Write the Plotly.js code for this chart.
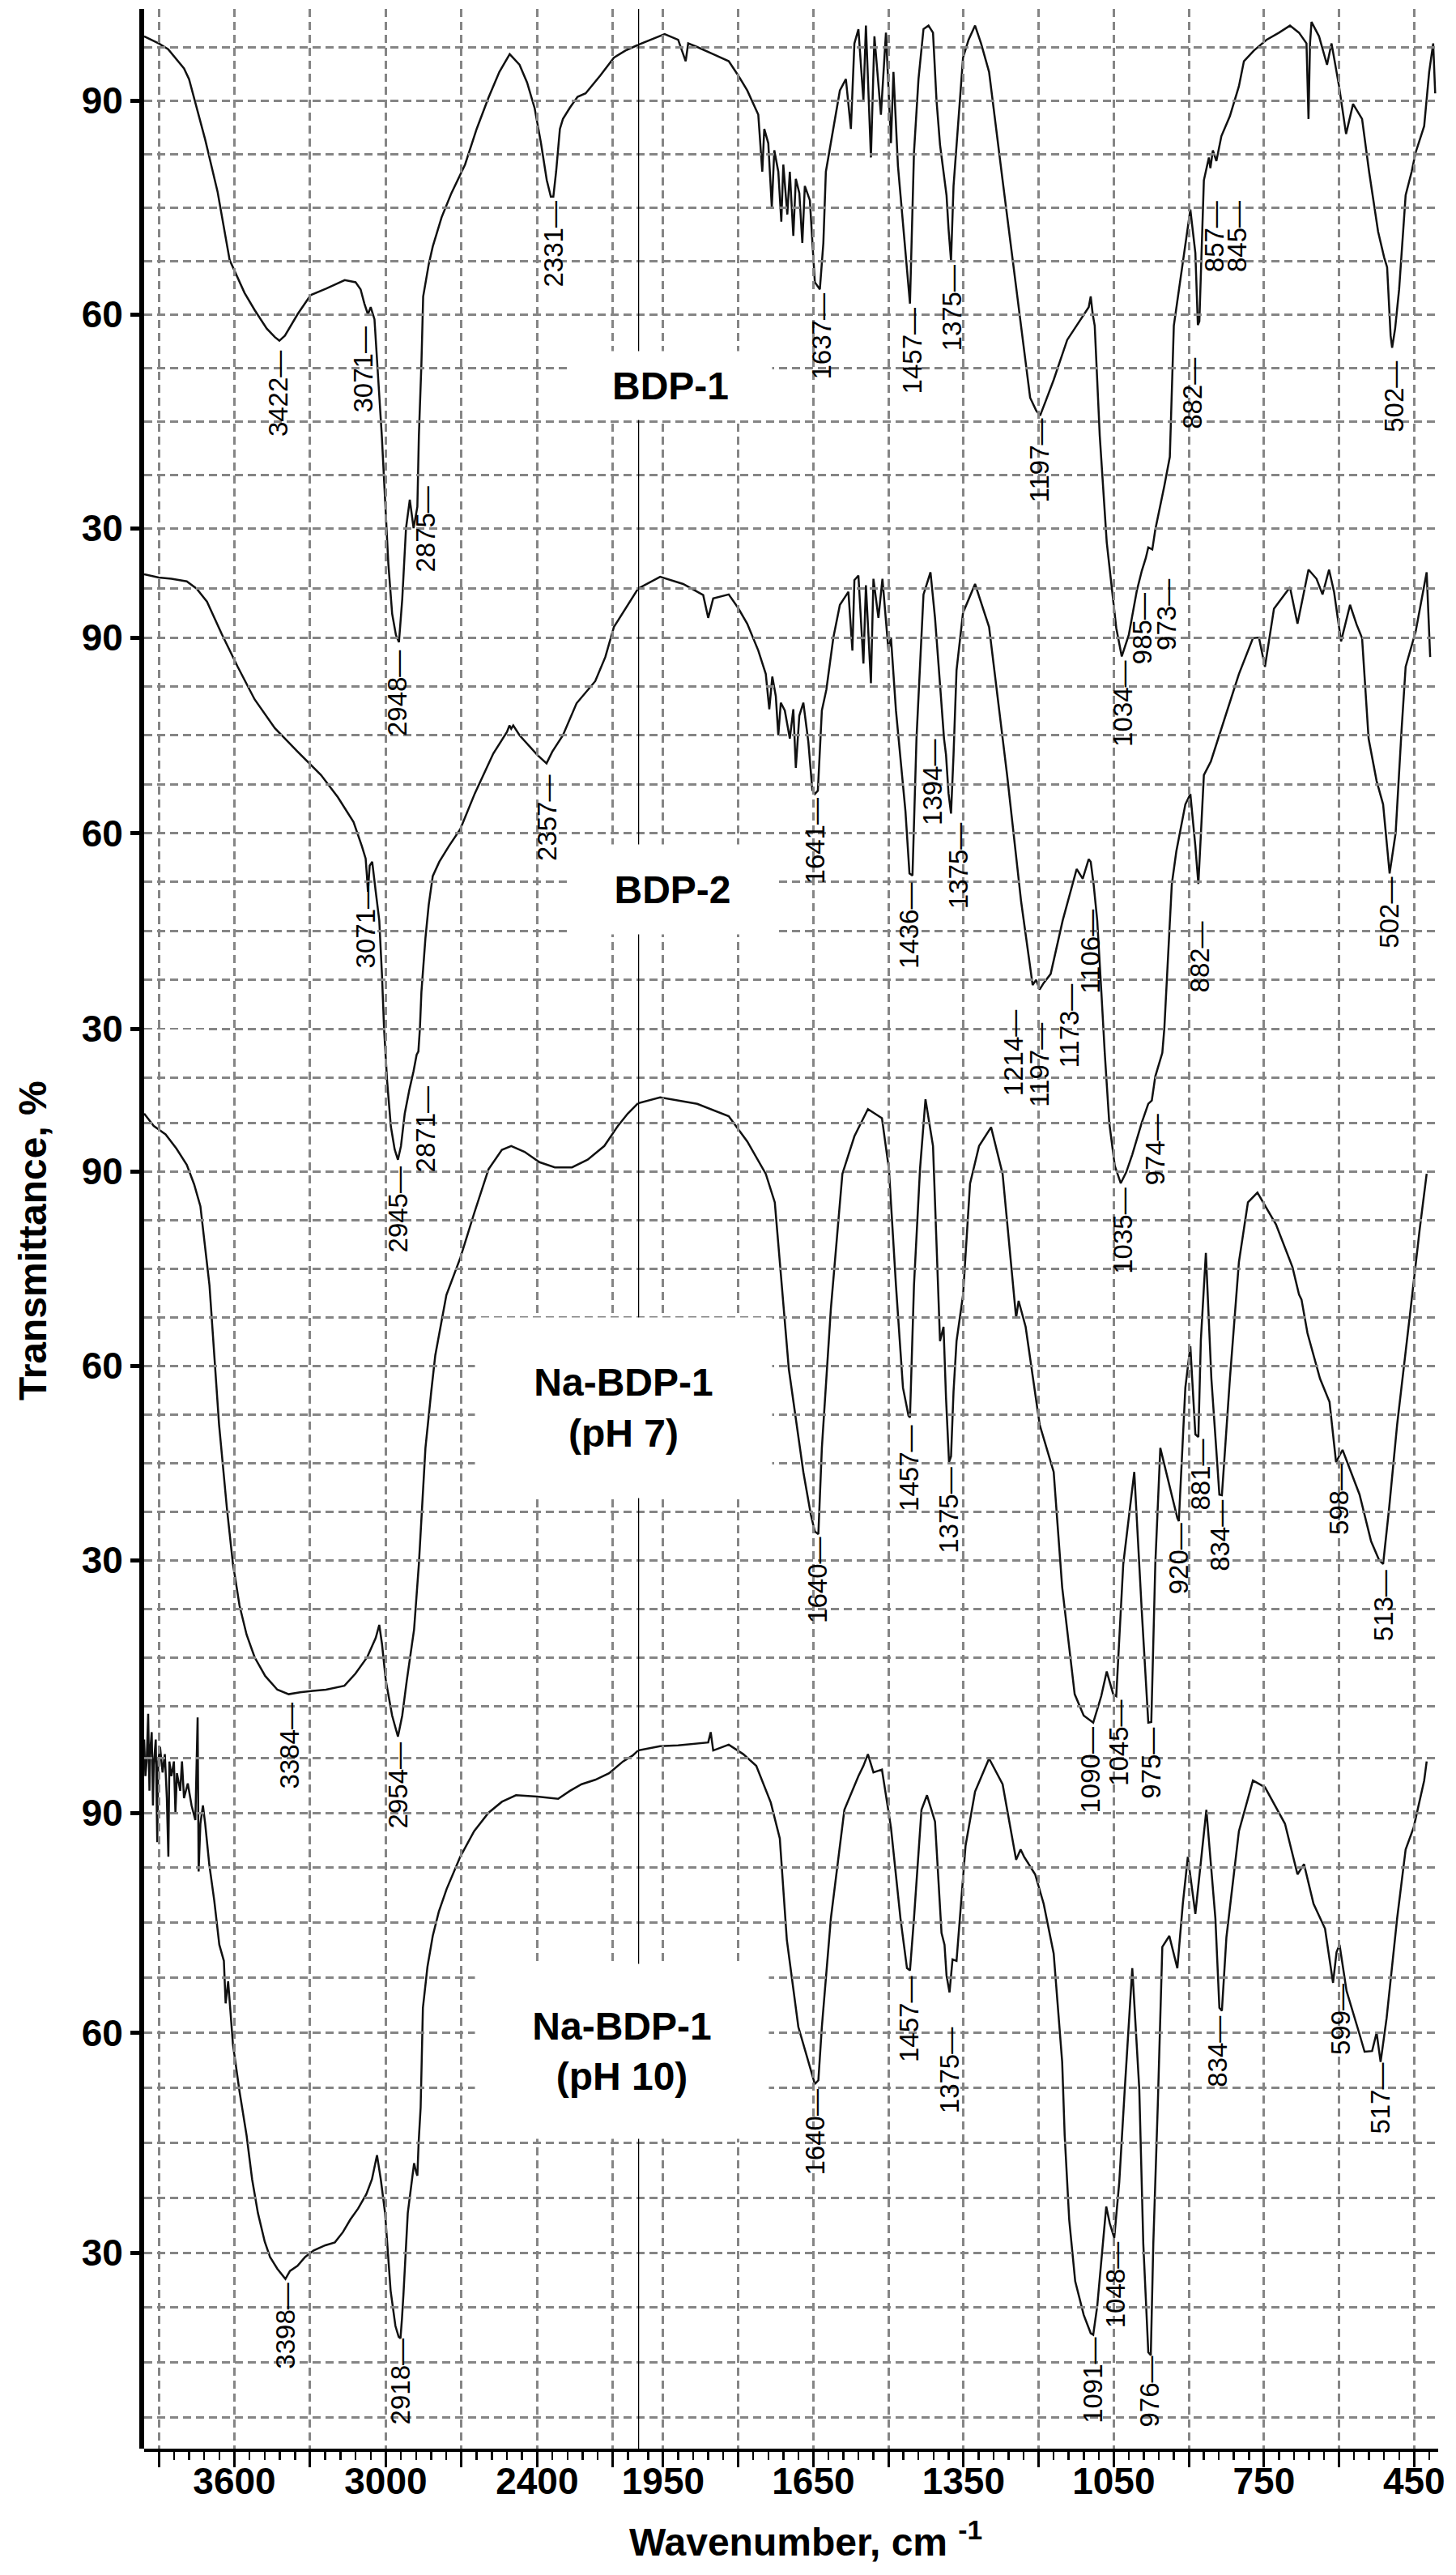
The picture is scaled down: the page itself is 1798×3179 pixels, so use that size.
<!DOCTYPE html>
<html>
<head>
<meta charset="utf-8">
<script src="https://cdn.plot.ly/plotly-3.0.1.min.js"></script>
<style>
  html, body { margin: 0; padding: 0; background: #fff; }
  #ir { width: 1798px; height: 3179px; }
</style>
</head>
<body>
<div id="ir"></div>
<script>
// IR spectra: [wavenumber cm-1, transmittance %]
let bdp1 = [
  [3958, 99.0], [3900, 98.0], [3863, 97.2], [3800, 94.5], [3780, 93], [3716, 84.5], [3667, 77.2],
  [3619, 67.6], [3560, 63], [3520, 60.6], [3472, 58], [3440, 56.8], [3422, 56.3], [3400, 57],
  [3350, 60], [3298, 62.7], [3237, 63.6], [3163, 64.8], [3120, 64.5], [3100, 63.5], [3085, 61.5],
  [3071, 60], [3060, 61], [3045, 59.3], [3016, 43], [3006, 36], [2990, 25], [2975, 18], [2960, 15],
  [2948, 14], [2935, 20], [2920, 30], [2905, 34], [2890, 30], [2875, 33], [2869, 43], [2859, 53],
  [2852, 62.5], [2830, 67], [2814, 69.5], [2779, 73.6], [2740, 77], [2686, 81], [2640, 86],
  [2593, 90.4], [2550, 94], [2509, 96.5], [2470, 95], [2440, 92.5], [2410, 88.9], [2385, 84],
  [2362, 78.8], [2346, 76.5], [2336, 76.5], [2325, 80], [2310, 86], [2298, 87.4], [2270, 89],
  [2240, 90.5], [2208, 91], [2150, 93.5], [2096, 96], [2050, 97], [2006, 97.7], [2000, 97.8],
  [1947, 99.3], [1920, 98.5], [1905, 95.5], [1900, 98], [1882, 97.5], [1850, 96.5], [1819, 95.5],
  [1800, 93.5], [1782, 91.4], [1760, 88], [1752, 80], [1748, 86], [1740, 84], [1733, 75],
  [1728, 83], [1720, 80], [1714, 73], [1710, 81], [1702, 74], [1697, 80], [1690, 71], [1685, 79],
  [1678, 77], [1672, 70], [1667, 78], [1657, 76],
  [1647, 64.5], [1637, 63.5], [1630, 70], [1625, 80], [1610, 86], [1597, 91.4], [1585, 93],
  [1575, 86], [1568, 98], [1560, 100], [1550, 90], [1545, 100.5], [1535, 82], [1528, 99],
  [1515, 88], [1505, 99.5], [1495, 84], [1490, 94], [1481, 80.8], [1470, 72], [1463, 65.5],
  [1457, 61.5], [1449, 82.7], [1440, 93], [1430, 100], [1420, 100.5], [1411, 99.5], [1404, 90],
  [1397, 83.8], [1384, 76.7], [1380, 72], [1375, 67.5], [1370, 78], [1364, 83.8], [1351, 96],
  [1340, 98.5], [1327, 100.5], [1315, 98], [1299, 94], [1272, 78.8], [1245, 63.5], [1217, 48.3],
  [1205, 46.5], [1197, 45.8], [1185, 48], [1170, 50.8], [1143, 56.4], [1115, 59.4], [1100, 61],
  [1096, 62.5], [1092, 60], [1088, 58.4], [1078, 43], [1064, 28], [1055, 22], [1045, 16],
  [1034, 12], [1020, 15], [1004, 21.2], [994, 24], [986, 25.8], [981, 27.3], [973, 27],
  [967, 29.8], [949, 35.9], [938, 40], [930, 58.4], [911, 67.6], [897, 74.7], [887, 68.6],
  [882, 58.5], [879, 59], [870, 78.8], [860, 82], [857, 80.5], [852, 83], [845, 81.5], [835, 85],
  [818, 87.8], [800, 92], [790, 95.5], [770, 97], [745, 98.5], [720, 99.5], [698, 100.5],
  [680, 99.5], [665, 98], [661, 87.4], [658, 98], [655, 101], [640, 99], [624, 95], [615, 98],
  [600, 92], [586, 85.3], [572, 89.5], [560, 88], [554, 87.4], [540, 80], [522, 71.6], [510, 68],
  [504, 66.6], [497, 57], [494, 55.3], [488, 58], [480, 63.5], [467, 76.7], [455, 80], [447, 82.7],
  [430, 86.4], [420, 94], [412, 98], [408, 91]
];

let bdp2 = [
  [3958, 99.7], [3900, 99.2], [3850, 99], [3789, 98.6], [3750, 97.5], [3709, 95.5], [3650, 90.5],
  [3587, 85.5], [3520, 80.5], [3440, 76.1], [3350, 72.5], [3257, 68.9], [3190, 65.5], [3128, 61.7],
  [3095, 58], [3080, 56.1], [3075, 53.5], [3071, 51], [3064, 55], [3054, 55.6], [3040, 51],
  [3026, 46.6], [3015, 38], [3007, 30], [2995, 22], [2980, 15], [2965, 11.5], [2952, 9.9],
  [2940, 12], [2925, 17], [2907, 20.6], [2890, 23.5], [2878, 26], [2871, 26.5], [2865, 30],
  [2859, 35.6], [2843, 43.9], [2830, 49], [2814, 53.4], [2788, 55.6], [2750, 58], [2705, 60.6],
  [2647, 66.1], [2574, 72.2], [2520, 75.5], [2510, 76.5], [2503, 76], [2495, 76.5], [2470, 75],
  [2445, 73.9], [2400, 72], [2363, 70.7], [2340, 72.5], [2298, 75], [2244, 79.9], [2170, 83.3],
  [2130, 87], [2096, 91.6], [2050, 94.5], [2006, 97.2], [2000, 97.5], [1956, 99.3], [1910, 98.2],
  [1870, 96.5], [1860, 93], [1850, 96], [1819, 96.6], [1800, 94.5], [1782, 92.1], [1760, 88],
  [1745, 84.4], [1738, 79], [1732, 84], [1725, 81], [1720, 75], [1715, 80], [1707, 78.8],
  [1697, 74.5], [1690, 79], [1685, 70], [1678, 78], [1670, 80], [1660, 74], [1652, 66.6],
  [1647, 66], [1641, 66.5], [1633, 78.8],
  [1624, 82], [1610, 90], [1597, 95], [1580, 97], [1572, 88], [1568, 98.8], [1560, 99.5],
  [1550, 86], [1545, 98], [1535, 83], [1530, 99], [1520, 93], [1512, 99], [1500, 88], [1495, 90],
  [1485, 78.8], [1466, 63.3], [1458, 53.8], [1452, 53.5], [1444, 74.5], [1430, 96.6], [1416, 100],
  [1407, 93], [1397, 82.8], [1389, 74.5], [1385, 72], [1380, 66.1], [1375, 63], [1370, 72],
  [1364, 85], [1351, 93.8], [1327, 98.2], [1299, 91.6], [1263, 68.9], [1235, 49.5], [1212, 36.7],
  [1205, 37.5], [1198, 36], [1190, 37], [1176, 38.4], [1152, 46.6], [1124, 54.5], [1112, 53],
  [1100, 56], [1096, 55.6], [1090, 52], [1083, 46.6], [1075, 36], [1068, 26.3], [1059, 15.6],
  [1048, 9], [1036, 6.3], [1025, 8], [1013, 10.7], [994, 15.6], [981, 18.5], [974, 19],
  [967, 22.7], [953, 26.3], [949, 30], [934, 52.2], [925, 57.2], [907, 64.4], [897, 66], [887, 58],
  [881, 52.2], [870, 68.9], [856, 71], [837, 75.5], [818, 80], [800, 84.4], [772, 89.9], [760, 90],
  [748, 85.5], [730, 94.4], [698, 97.7], [683, 92.1], [661, 100.4], [645, 99], [633, 96.6],
  [620, 100.4], [610, 97], [596, 89.4], [578, 95], [565, 92], [554, 89.9], [541, 74.5], [525, 68],
  [512, 64.4], [499, 53.8], [487, 60], [475, 76], [467, 85.5], [447, 90.9], [425, 100], [418, 87]
];

let nabdp7 = [
  [3958, 98.9], [3920, 97], [3873, 95.7], [3830, 93.5], [3789, 91], [3760, 88], [3735, 84.6],
  [3699, 72.4], [3661, 50.9], [3630, 38], [3606, 29.4], [3580, 23], [3552, 18.5], [3520, 15],
  [3478, 12.1], [3430, 10], [3385, 9.3], [3340, 9.6], [3290, 9.8], [3237, 10], [3164, 10.6],
  [3120, 12.5], [3074, 15], [3040, 18], [3026, 20], [3015, 17], [3000, 11.4], [2975, 6],
  [2952, 2.75], [2935, 6], [2917, 11.4], [2888, 19.3], [2869, 29.4], [2843, 47.3], [2820, 56],
  [2804, 61.6], [2760, 70.9], [2705, 76.6], [2650, 83.5], [2593, 90.3], [2540, 93.3], [2503, 93.9],
  [2450, 93], [2391, 91.4], [2330, 90.6], [2262, 90.6], [2200, 91.8], [2134, 93.9], [2080, 97],
  [2041, 98.9], [2000, 100.5], [1956, 101.4], [1882, 100.4], [1819, 98.5], [1782, 94.6],
  [1745, 89.6], [1727, 85.2], [1699, 59.5], [1670, 43.6], [1655, 37], [1647, 34.4], [1640, 34],
  [1633, 47.3], [1615, 68.8], [1592, 89.6], [1568, 95.4], [1541, 99.6], [1513, 98.2], [1499, 90.3],
  [1485, 72.4], [1471, 56.6], [1460, 52.3], [1457, 52], [1449, 72.4], [1437, 90.3], [1426, 101.1],
  [1411, 93.9], [1397, 63.8], [1390, 66], [1385, 55], [1379, 45.1], [1375, 46], [1370, 56],
  [1364, 63.8], [1351, 70.9], [1337, 88.1], [1319, 93.9], [1295, 96.8], [1272, 89.6], [1245, 67.4],
  [1240, 70], [1226, 66], [1198, 50.9], [1170, 43.6], [1153, 25.8], [1128, 9.3], [1110, 6],
  [1091, 4.9], [1075, 9], [1064, 12.8], [1051, 9.3], [1045, 9], [1031, 29.4], [1009, 43.6],
  [994, 22.1], [981, 4.9], [975, 5], [967, 29.4], [957, 47.3], [940, 42], [923, 36.5], [920, 36],
  [907, 56.6], [897, 63], [887, 49.4], [881, 49], [876, 64], [866, 77.4], [855, 58], [839, 40.1],
  [834, 40], [818, 58], [800, 76], [782, 85.2], [763, 86.7], [726, 81.8], [693, 75.2], [680, 71],
  [675, 70.2], [663, 65], [638, 58], [619, 54.4], [606, 45.1], [600, 46], [593, 47], [559, 40.1],
  [536, 32.9], [520, 30], [512, 29.4], [500, 38], [484, 50.9], [457, 68.8], [439, 81], [425, 89.6]
];

let nabdp10 = [
  [3958, 100], [3953, 95], [3948, 97], [3942, 103.5], [3937, 93], [3935, 98], [3928, 101],
  [3923, 91], [3920, 96.5], [3912, 100], [3906, 86], [3902, 97], [3895, 99], [3885, 95.5],
  [3876, 98], [3868, 92], [3862, 84], [3858, 97], [3850, 95], [3840, 97], [3834, 90], [3828, 95.4],
  [3815, 93], [3808, 97], [3800, 92], [3785, 94], [3770, 91], [3755, 89], [3746, 103], [3742, 82],
  [3735, 88.5], [3725, 91], [3716, 88.5], [3700, 83], [3680, 78], [3660, 72], [3642, 69.8], [3635, 64],
  [3625, 67], [3606, 58.4], [3580, 52], [3552, 46], [3530, 40], [3507, 35.4], [3480, 31.5],
  [3459, 29.4], [3430, 27.8], [3404, 26.6], [3398, 26.4], [3380, 27.5], [3350, 28.2], [3320, 29.4],
  [3286, 30.3], [3240, 31], [3202, 31.4], [3170, 32.8], [3141, 34.5], [3110, 36], [3077, 38],
  [3055, 40], [3035, 43.3], [3020, 40], [3003, 35.4], [2981, 24.8], [2962, 20], [2949, 18.5],
  [2942, 18.3], [2936, 21], [2930, 24.4], [2913, 35.4], [2888, 42.2], [2880, 41], [2875, 40.5],
  [2870, 45], [2862, 49.8], [2853, 63.4], [2835, 69], [2814, 73.2], [2790, 76.5], [2759, 79.6],
  [2705, 84], [2650, 87.5], [2593, 90], [2540, 91.5], [2484, 92.4], [2400, 92.2], [2317, 91.9],
  [2270, 93], [2224, 93.9], [2170, 94.5], [2115, 95.4], [2060, 97], [2022, 97.8], [2000, 98.5],
  [1956, 99.1], [1920, 99.2], [1880, 99.5], [1860, 99.6], [1855, 101], [1850, 98.5], [1819, 99.3],
  [1790, 98], [1764, 96.4], [1735, 91.4], [1717, 86.5], [1703, 72.7], [1680, 60.8], [1660, 56],
  [1650, 53.5], [1647, 53], [1640, 53.5], [1633, 60.8], [1615, 75.6], [1588, 90.4], [1560, 95],
  [1550, 96.4], [1541, 98], [1530, 95.5], [1513, 95.9], [1495, 88], [1476, 75.6], [1463, 68.8],
  [1457, 68.5], [1449, 75.6], [1434, 90.4], [1423, 92.4], [1407, 88.8], [1394, 73.6], [1388, 72],
  [1384, 67.8], [1378, 65.5], [1372, 70], [1364, 69.8], [1346, 85.5], [1327, 92.9], [1299, 97.4],
  [1272, 93.9], [1245, 83.6], [1236, 85], [1229, 84], [1207, 81.6], [1190, 77.6], [1170, 70.8],
  [1153, 56], [1148, 46], [1139, 34.5], [1127, 26.1], [1110, 21.5], [1096, 19], [1091, 18.8],
  [1083, 22.7], [1077, 27], [1065, 36.3], [1058, 34], [1049, 32], [1039, 39.6], [1033, 46],
  [1028, 52.3], [1013, 68.8], [1005, 60], [999, 52.3], [991, 31.2], [981, 16.4], [976, 16],
  [971, 31.2], [962, 50.2], [953, 71.7], [939, 73.2], [923, 68.8], [912, 77.6], [902, 84],
  [887, 76.2], [876, 83], [865, 90.4], [847, 75.6], [839, 63.4], [834, 63], [825, 73], [800, 87.5],
  [772, 94.4], [748, 93.5], [708, 88.5], [683, 81.6], [670, 83], [651, 77.6], [628, 74.2],
  [612, 66.8], [605, 71], [599, 72], [585, 65.7], [560, 60], [549, 57.4], [534, 57.5], [525, 60],
  [517, 56], [505, 62], [484, 75.6], [467, 85], [451, 88], [430, 94.4], [425, 97]
];

// peak labels: [text, wavenumber where it stands, % at its upper end]
let bdp1Peaks = [
  ['3422', 3428, 55], ['3071', 3090, 58.4], ['2948', 2955, 13], ['2875', 2843, 36],
  ['2331', 2336, 76], ['1637', 1633, 63], ['1457', 1453, 61], ['1375', 1374, 67],
  ['1197', 1198, 45.5], ['1034', 1031, 11.5], ['985', 994, 21], ['973', 945, 23],
  ['882', 892, 54], ['857', 850, 76], ['845', 805, 76], ['502', 490, 53.5]
];
let bdp2Peaks = [
  ['3071', 3080, 52.5], ['2945', 2952, 9], ['2871', 2843, 21.3], ['2357', 2363, 69],
  ['1641', 1647, 65.5], ['1436', 1458, 52.5], ['1394', 1411, 74.5], ['1375', 1359, 61.7],
  ['1214', 1249, 33], ['1197', 1198, 31], ['1173', 1138, 37], ['1106', 1096, 48.4],
  ['1035', 1031, 5.7], ['974', 967, 17], ['882', 879, 46.6], ['502', 499, 53.4]
];
let nabdp7Peaks = [
  ['3384', 3385, 8], ['2954', 2952, 2], ['1640', 1643, 33.6], ['1457', 1458, 50.9],
  ['1375', 1379, 44.4], ['1090', 1096, 4.3], ['1045', 1041, 8.5], ['975', 976, 4.3],
  ['920', 920, 35.8], ['881', 876, 48.8], ['834', 837, 39.4], ['598', 601, 45], ['513', 512, 28.6]
];
let nabdp10Peaks = [
  ['3398', 3398, 26], ['2918', 2942, 18.3], ['1640', 1647, 52.4], ['1457', 1458, 67.8],
  ['1375', 1379, 60.8], ['1091', 1093, 18.5], ['1048', 1046, 31.5], ['976', 978, 16],
  ['834', 842, 62.4], ['599', 596, 66.8], ['517', 517, 56]
];

let panelNames = ['BDP-1', 'BDP-2', 'Na-BDP-1<br>(pH 7)', 'Na-BDP-1<br>(pH 10)'];

let hiTickVals = [3900, 3600, 3300, 3000, 2700, 2400, 2100];
let hiTickText = ['', '3600', '', '3000', '', '2400', ''];
let loTickVals = [1950, 1800, 1650, 1500, 1350, 1200, 1050, 900, 750, 600, 450];
let loTickText = ['1950', '', '1650', '', '1350', '', '1050', '', '750', '', '450'];
let pctTickVals = [30, 60, 90];


// ---- layout geometry (pixels of the 1798 x 3179 picture) ----
const plotL = 178, plotR = 1776, plotT = 11, plotB = 3023;
const plotH = plotB - plotT;
const breakPx = 788;                 // x position of the 2000 cm-1 scale change
const breakFrac = (breakPx - plotL) / (plotR - plotL);
const panelTop90 = [124, 787, 1446, 2238];   // where 90 % sits in each panel
const panelPxPerPct = [8.8, 8.05, 8.0, 9.05];
const bandEdges = [plotT, 690, 1358, 2135, plotB];
// label boxes: centre x, centre y, width, height
const nameBoxes = [[828, 476, 250, 84], [830, 1098, 255, 110], [770, 1738, 366, 222], [768, 2532, 362, 215]];

const fontFam = 'Liberation Sans, Arial, sans-serif';
const gridCol = '#858585';
const gridDash = '10px,6px';

function pctAt(k, py) { return 90 - (py - panelTop90[k]) / panelPxPerPct[k]; }
function yDom(pyTop, pyBot) { return [(plotB - pyBot) / plotH, (plotB - pyTop) / plotH]; }
function px2x(px) { return (px - plotL) / (plotR - plotL); }
function px2y(py) { return (plotB - py) / plotH; }

let spectra = [bdp1, bdp2, nabdp7, nabdp10];
let peaks = [bdp1Peaks, bdp2Peaks, nabdp7Peaks, nabdp10Peaks];

// placeholder traces so the grid subplots are drawn underneath the spectra
let traces = [];
['y', 'y2', 'y3', 'y4'].forEach(ya => {
  traces.push({ x: [null], y: [null], xaxis: 'x5', yaxis: ya, mode: 'lines', hoverinfo: 'skip', showlegend: false });
});
['x3', 'x4'].forEach(xa => {
  traces.push({ x: [null], y: [null], xaxis: xa, yaxis: 'y9', mode: 'lines', hoverinfo: 'skip', showlegend: false });
});

spectra.forEach((pts, k) => {
  let hi = pts.filter(p => p[0] >= 2000);
  let lo = pts.filter(p => p[0] <= 2000);
  let ya = 'y' + (k + 5);
  traces.push({
    x: hi.map(p => p[0]), y: hi.map(p => p[1]), xaxis: 'x', yaxis: ya,
    mode: 'lines', line: { color: '#111', width: 2.5 }, showlegend: false
  });
  traces.push({
    x: lo.map(p => p[0]), y: lo.map(p => p[1]), xaxis: 'x2', yaxis: ya,
    mode: 'lines', line: { color: '#111', width: 2.5 }, showlegend: false
  });
});

let boldTick = { family: fontFam, size: 46, color: '#000', weight: 'bold' };

let layout = {
  width: 1798,
  height: 3179,
  margin: { l: plotL, r: 1798 - plotR, t: plotT, b: 3179 - plotB },
  paper_bgcolor: '#fff',
  plot_bgcolor: 'rgba(0,0,0,0)',
  showlegend: false,
  xaxis: {
    domain: [0, breakFrac], range: [3958, 2000], anchor: 'y5',
    tickmode: 'array', tickvals: hiTickVals, ticktext: hiTickText,
    ticks: 'outside', ticklen: 19, tickwidth: 3, tickcolor: '#000', ticklabelstandoff: -22,
    minor: { dtick: 60, ticks: 'outside', ticklen: 10, tickwidth: 2.5, tickcolor: '#000' },
    showline: true, linewidth: 4, linecolor: '#000',
    showgrid: false, zeroline: false, tickfont: boldTick
  },
  xaxis2: {
    domain: [breakFrac, 1], range: [2000, 402], anchor: 'y5',
    tickmode: 'array', tickvals: loTickVals, ticktext: loTickText,
    ticks: 'outside', ticklen: 19, tickwidth: 3, tickcolor: '#000', ticklabelstandoff: -22,
    minor: { dtick: 30, ticks: 'outside', ticklen: 10, tickwidth: 2.5, tickcolor: '#000' },
    showline: true, linewidth: 4, linecolor: '#000',
    showgrid: false, zeroline: false, tickfont: boldTick
  },
  xaxis3: {
    domain: [0, breakFrac], range: [3958, 2000], anchor: 'y9',
    tickmode: 'array', tickvals: hiTickVals, showticklabels: false, ticks: '',
    showgrid: true, gridcolor: gridCol, gridwidth: 3, griddash: gridDash,
    showline: false, zeroline: false
  },
  xaxis4: {
    domain: [breakFrac, 1], range: [2000, 402], anchor: 'y9',
    tickmode: 'array', tickvals: loTickVals, showticklabels: false, ticks: '',
    showgrid: true, gridcolor: gridCol, gridwidth: 3, griddash: gridDash,
    showline: false, zeroline: false
  },
  xaxis5: { domain: [0, 1], range: [0, 1], anchor: 'y', visible: false },
  yaxis9: { domain: [0, 1], range: [0, 1], anchor: 'x3', visible: false },
  shapes: [{
    type: 'line', xref: 'x2', yref: 'paper', x0: 2000, x1: 2000, y0: 0, y1: 1,
    line: { color: '#000', width: 2.5 }, layer: 'above'
  }],
  annotations: []
};

// grid bands with the 30/60/90 ticks, and the full-height axes that carry each spectrum
for (let k = 0; k < 4; k++) {
  let top = bandEdges[k], bot = bandEdges[k + 1];
  layout['yaxis' + (k === 0 ? '' : k + 1)] = {
    domain: yDom(top, bot), range: [pctAt(k, bot), pctAt(k, top)], anchor: 'x5',
    tickmode: 'array', tickvals: pctTickVals,
    ticks: 'outside', ticklen: 11, tickwidth: 5, tickcolor: '#000',
    showline: true, linewidth: 6, linecolor: '#000', tickfont: boldTick,
    showgrid: true, gridcolor: gridCol, gridwidth: 3, griddash: gridDash,
    minor: { dtick: 7.5, showgrid: true, gridcolor: gridCol, gridwidth: 3, griddash: gridDash },
    zeroline: false
  };
  layout['yaxis' + (k + 5)] = {
    domain: [0, 1], range: [pctAt(k, plotB), pctAt(k, plotT)], anchor: 'x', visible: false
  };

  peaks[k].forEach(p => {
    layout.annotations.push({
      text: p[0] + '\u2014', x: p[1], y: p[2],
      xref: p[1] >= 2000 ? 'x' : 'x2', yref: 'y' + (k + 5),
      textangle: -90, xanchor: 'center', yanchor: 'top', showarrow: false, borderpad: 0,
      font: { family: fontFam, size: 33, color: '#000' }
    });
  });

  let b = nameBoxes[k];
  layout.annotations.push({
    text: panelNames[k], xref: 'paper', yref: 'paper', x: px2x(b[0]), y: px2y(b[1]),
    xanchor: 'center', yanchor: 'middle', showarrow: false,
    width: b[2], height: b[3], bgcolor: '#fff', borderpad: 0,
    font: { family: fontFam, size: 48, color: '#000', weight: 'bold' }
  });
}

layout.annotations.push({
  text: 'Transmittance, %', xref: 'paper', yref: 'paper', x: px2x(40), y: px2y(1532),
  textangle: -90, xanchor: 'center', yanchor: 'middle', showarrow: false,
  font: { family: fontFam, size: 48, color: '#000', weight: 'bold' }
});
layout.annotations.push({
  text: 'Wavenumber, cm <sup>-1</sup>', xref: 'paper', yref: 'paper', x: px2x(995), y: px2y(3135),
  xanchor: 'center', yanchor: 'middle', showarrow: false,
  font: { family: fontFam, size: 48, color: '#000', weight: 'bold' }
});

Plotly.newPlot('ir', traces, layout, { displayModeBar: false, staticPlot: true });
</script>
</body>
</html>
